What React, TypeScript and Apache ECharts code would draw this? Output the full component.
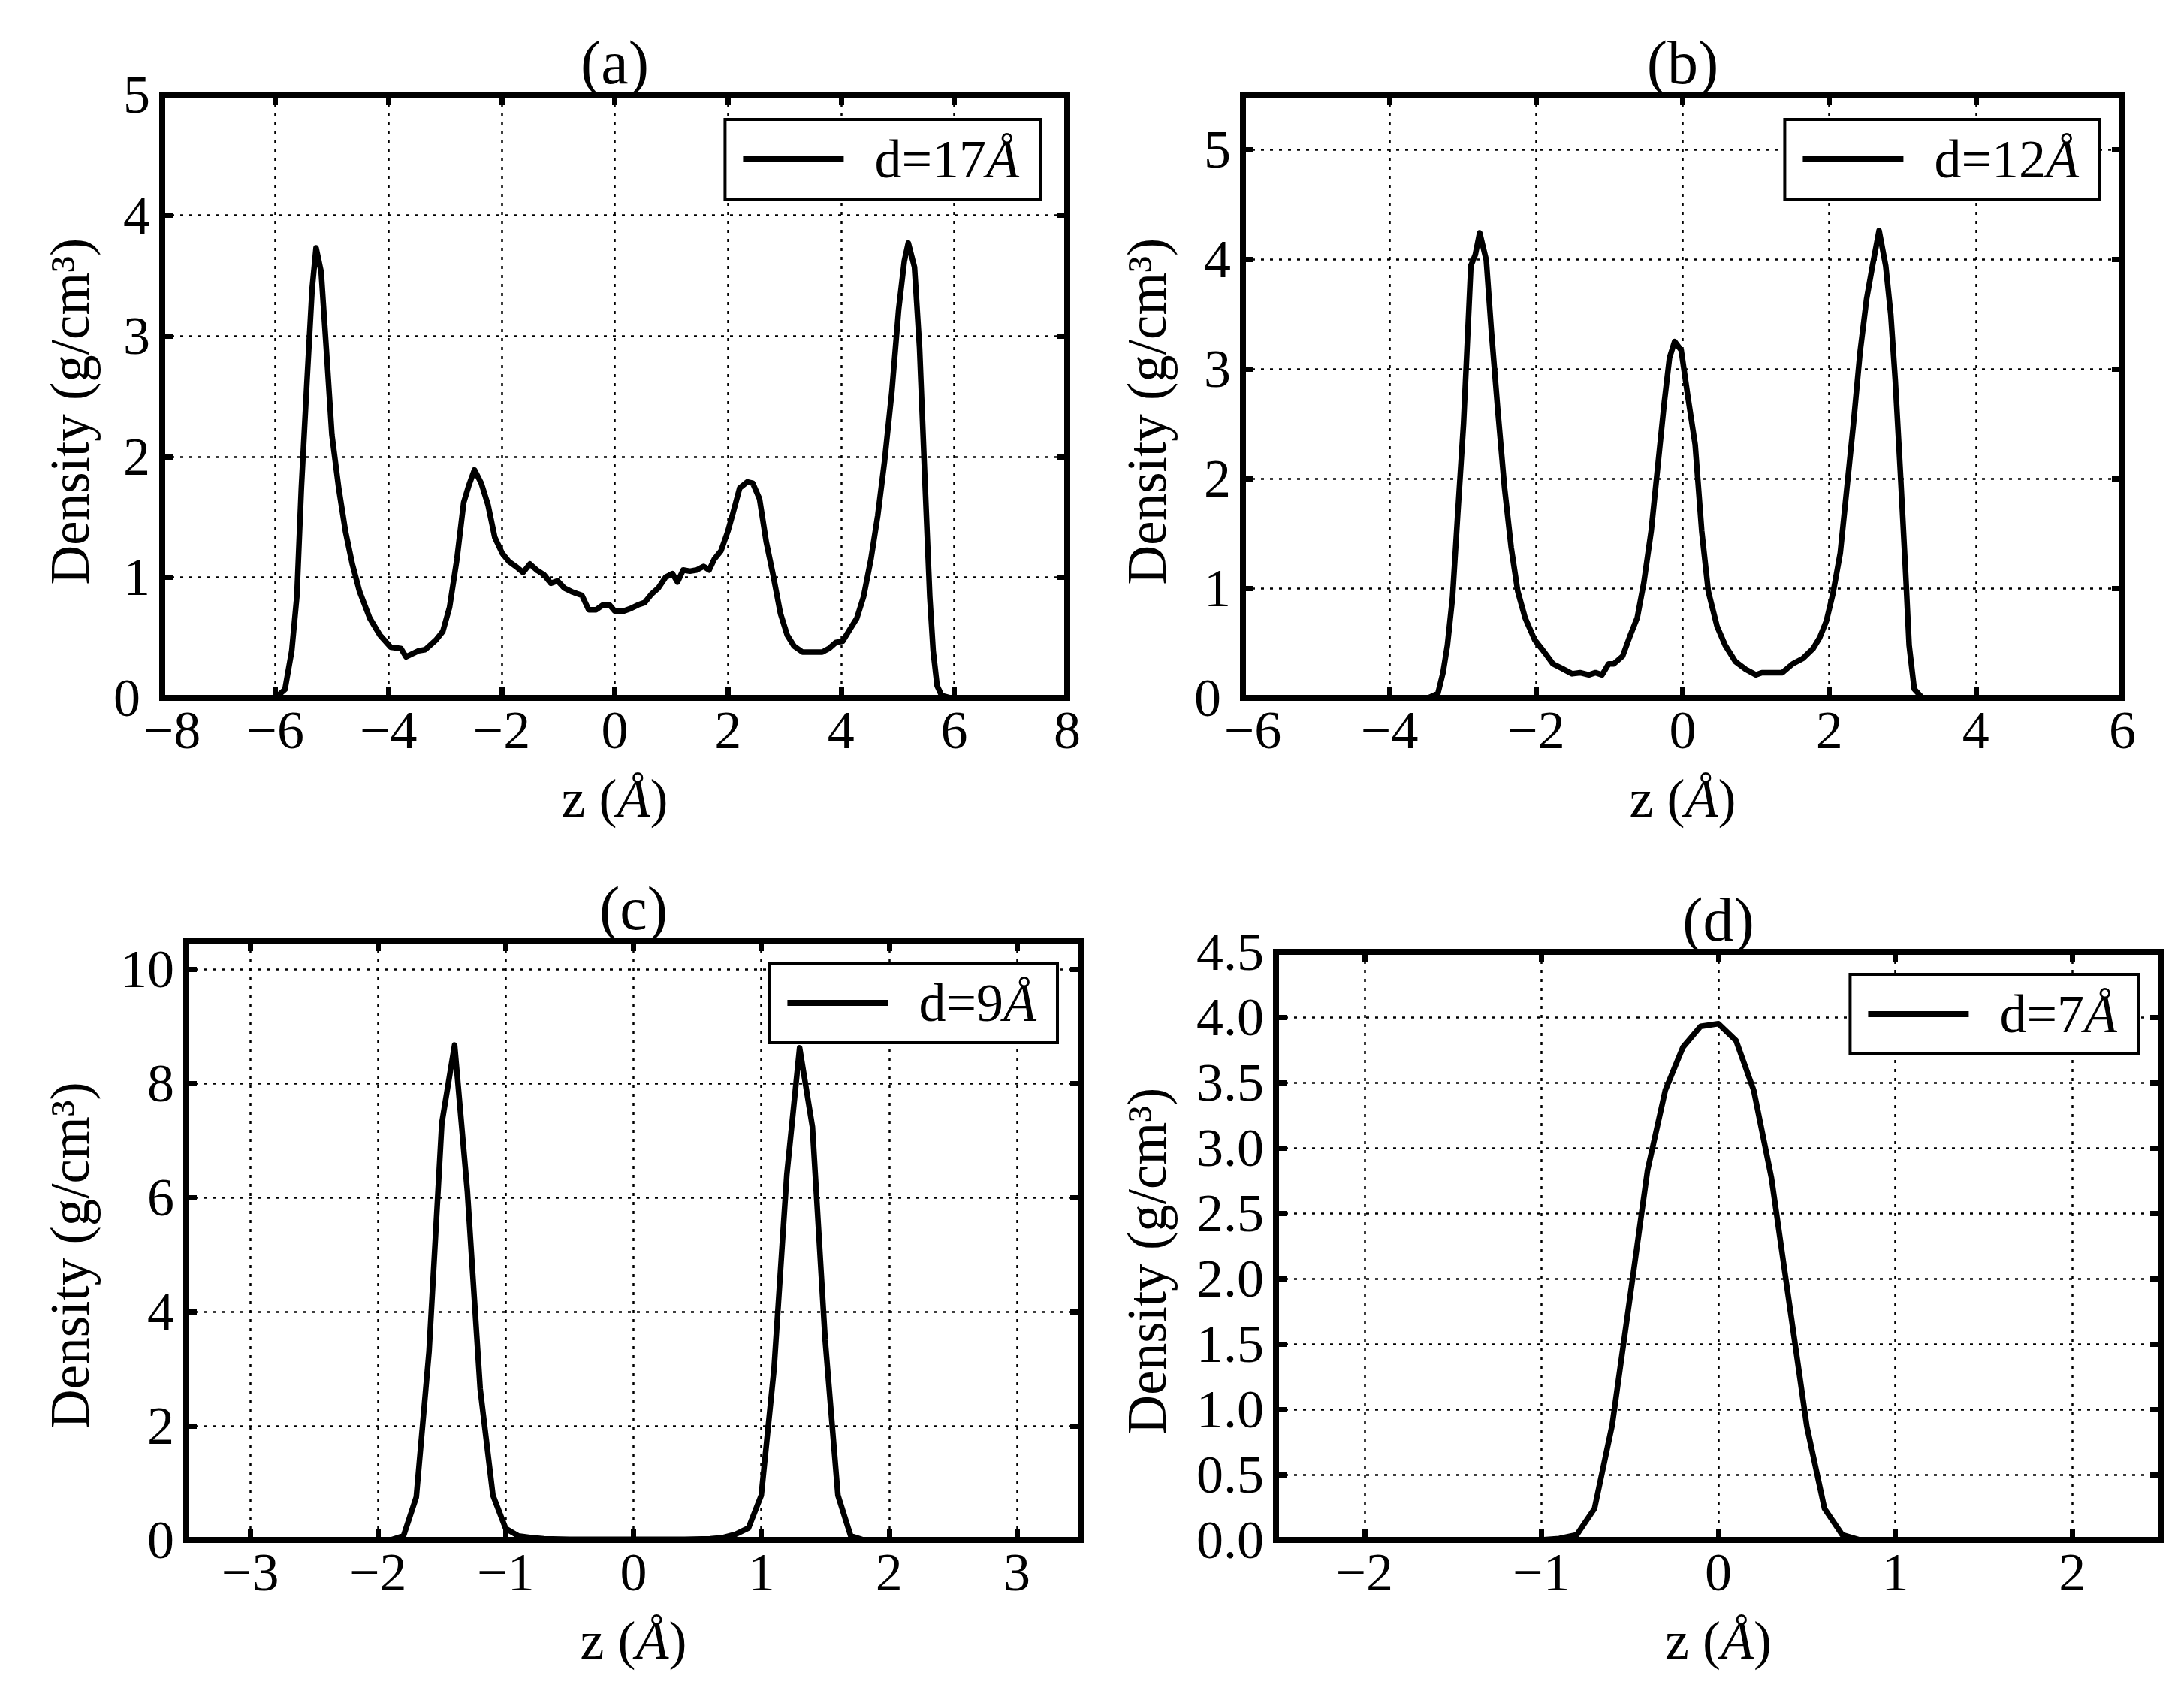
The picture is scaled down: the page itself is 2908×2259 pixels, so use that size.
import React, { useEffect, useRef } from 'react';
import * as echarts from 'echarts';

// ---------- data ----------
const zA = [
  -7.2, -6.6, -6.0, -5.83, -5.71, -5.62, -5.54, -5.44, -5.35, -5.28,
  -5.19, -5.1, -5.0, -4.88, -4.76, -4.64, -4.51, -4.33, -4.15, -3.96,
  -3.78, -3.69, -3.47, -3.35, -3.16, -3.04, -2.92, -2.79, -2.67, -2.58,
  -2.48, -2.36, -2.24, -2.12, -1.99, -1.87, -1.75, -1.62, -1.5, -1.38,
  -1.25, -1.13, -1.01, -0.89, -0.76, -0.58, -0.46, -0.33, -0.21, -0.09,
  0, 0.16, 0.28, 0.41, 0.53, 0.65, 0.77, 0.9, 1.02, 1.11,
  1.21, 1.33, 1.45, 1.57, 1.67, 1.76, 1.88, 2.0, 2.09, 2.21,
  2.34, 2.44, 2.56, 2.68, 2.8, 2.93, 3.05, 3.17, 3.32, 3.48,
  3.67, 3.79, 3.91, 4.03, 4.16, 4.28, 4.4, 4.53, 4.65, 4.77,
  4.9, 5.02, 5.12, 5.19, 5.3, 5.39, 5.49, 5.57, 5.63, 5.7,
  5.78, 5.94, 6.2,
];
const rhoA = [
  0, 0, 0, 0.07, 0.39, 0.84, 1.74, 2.63, 3.39, 3.73,
  3.53, 2.9, 2.18, 1.74, 1.38, 1.11, 0.88, 0.66, 0.52, 0.42,
  0.41, 0.34, 0.39, 0.4, 0.48, 0.55, 0.75, 1.15, 1.62, 1.76,
  1.89, 1.78, 1.6, 1.33, 1.2, 1.13, 1.09, 1.04, 1.11, 1.06,
  1.02, 0.95, 0.97, 0.91, 0.88, 0.85, 0.73, 0.73, 0.77, 0.77,
  0.72, 0.72, 0.74, 0.77, 0.79, 0.86, 0.91, 1.0, 1.03, 0.96,
  1.06, 1.05, 1.06, 1.09, 1.06, 1.15, 1.22, 1.38, 1.53, 1.74,
  1.79, 1.78, 1.65, 1.29, 1.02, 0.7, 0.52, 0.43, 0.38, 0.38,
  0.38, 0.41, 0.46, 0.47, 0.57, 0.66, 0.84, 1.15, 1.51, 1.96,
  2.54, 3.22, 3.62, 3.77, 3.57, 2.9, 1.74, 0.84, 0.39, 0.1,
  0.02, 0, 0,
];

const zB = [
  -3.6, -3.47, -3.34, -3.27, -3.21, -3.14, -3.07, -2.99, -2.89, -2.83,
  -2.77, -2.68, -2.61, -2.52, -2.43, -2.34, -2.25, -2.15, -2.02, -1.88,
  -1.77, -1.65, -1.51, -1.4, -1.28, -1.19, -1.1, -1.01, -0.94, -0.82,
  -0.71, -0.62, -0.53, -0.43, -0.34, -0.25, -0.18, -0.11, -0.02, 0.07,
  0.17, 0.26, 0.35, 0.47, 0.58, 0.72, 0.86, 1.0, 1.08, 1.22,
  1.36, 1.5, 1.64, 1.78, 1.87, 1.96, 2.05, 2.15, 2.24, 2.33,
  2.42, 2.51, 2.59, 2.68, 2.77, 2.84, 2.9, 2.97, 3.04, 3.09,
  3.16, 3.27, 3.4,
];
const rhoB = [
  0, 0, 0.04, 0.23, 0.48, 0.92, 1.67, 2.5, 3.94, 4.04,
  4.24, 3.99, 3.34, 2.6, 1.91, 1.37, 0.97, 0.73, 0.53, 0.41,
  0.31, 0.27, 0.22, 0.23, 0.21, 0.23, 0.21, 0.31, 0.31, 0.38,
  0.58, 0.73, 1.05, 1.52, 2.11, 2.7, 3.1, 3.25, 3.17, 2.75,
  2.31, 1.52, 0.97, 0.65, 0.48, 0.33, 0.26, 0.21, 0.23, 0.23,
  0.23, 0.31, 0.36, 0.45, 0.55, 0.7, 0.95, 1.32, 1.91, 2.5,
  3.15, 3.64, 3.94, 4.26, 3.94, 3.49, 2.9, 2.06, 1.17, 0.48,
  0.08, 0, 0,
];

const zC = [
  -2.0, -1.9, -1.8, -1.7, -1.6, -1.5, -1.4, -1.3, -1.2, -1.1,
  -1.0, -0.9, -0.8, -0.7, -0.5, -0.2, 0.1, 0.4, 0.6, 0.7,
  0.8, 0.9, 1.0, 1.1, 1.2, 1.3, 1.4, 1.5, 1.6, 1.7,
  1.8, 1.9,
];
const rhoC = [
  0, 0, 0.07, 0.75, 3.3, 7.3, 8.67, 6.1, 2.65, 0.78,
  0.2, 0.07, 0.04, 0.02, 0.01, 0.01, 0.01, 0.01, 0.02, 0.04,
  0.1, 0.21, 0.78, 3.0, 6.4, 8.62, 7.24, 3.5, 0.78, 0.07,
  0, 0,
];

const zD = [-1.0, -0.9, -0.8, -0.7, -0.6, -0.5, -0.4, -0.3, -0.2, -0.1, 0, 0.1, 0.2, 0.3, 0.4, 0.5, 0.6, 0.7, 0.8];
const rhoD = [0, 0.01, 0.04, 0.24, 0.88, 1.85, 2.83, 3.44, 3.77, 3.93, 3.95, 3.82, 3.44, 2.77, 1.82, 0.87, 0.24, 0.04, 0];

const panelTitles = ['(a)', '(b)', '(c)', '(d)'];
const seriesNames = ['d=17Å', 'd=12Å', 'd=9Å', 'd=7Å'];
// [min, max, tick step]
const xRanges = [[-8, 8, 2], [-6, 6, 2], [-3.5, 3.5, 1], [-2.5, 2.5, 1]];
const yRanges = [[0, 5, 1], [0, 5.5, 1], [0, 10.5, 2], [0, 4.5, 0.5]];
const yDecimals = [0, 0, 0, 1];
const xLabel = 'z ({i|Å})';
const yLabel = 'Density (g/cm³)';

// ---------- layout ----------
const layout = [
  { left: 216, top: 126, width: 1205, height: 803, yGap: 86, legRight: 1523, legTop: 159 },
  { left: 1655, top: 126, width: 1171, height: 803, yGap: 91, legRight: 112, legTop: 159 },
  { left: 248, top: 1252, width: 1191, height: 798, yGap: 118, legRight: 1500, legTop: 1282 },
  { left: 1699, top: 1267, width: 1178, height: 783, yGap: 135, legRight: 61, legTop: 1297 },
];

const FONT = '"Liberation Serif", "DejaVu Serif", serif';
const FS = 72;

function zip(xs: number[], ys: number[]) {
  const n = Math.min(xs.length, ys.length);
  const out: number[][] = [];
  for (let i = 0; i < n; i++) out.push([xs[i], ys[i]]);
  return out;
}

const onStep = (v: number, step: number) => Math.abs(v / step - Math.round(v / step)) < 1e-6;
const fmtNum = (v: number, decimals: number) => (Math.abs(v) < 1e-9 ? 0 : v).toFixed(decimals).replace('-', '\u2212');

// corner labels (x min / y zero) are nudged apart a little so they do not collide
const xFormatter = (min: number, step: number) => (v: number) => {
  if (!onStep(v, step)) return '';
  const s = fmtNum(v, 0);
  return Math.abs(v - min) < 1e-9 ? `{m|${s}}` : s;
};
const yFormatter = (step: number, decimals: number, nudgeZero: boolean) => (v: number) => {
  if (!onStep(v, step)) return '';
  const s = fmtNum(v, decimals);
  return nudgeZero && Math.abs(v) < 1e-9 ? `{z|${s}}` : s;
};

const baseText = { fontFamily: FONT, fontSize: FS, color: '#000' };
const richItalic = { i: { ...baseText, fontStyle: 'italic' } };

function buildOption() {
  const datasets = [zip(zA, rhoA), zip(zB, rhoB), zip(zC, rhoC), zip(zD, rhoD)];
  const tick = { show: true, inside: true, length: 14, lineStyle: { color: '#000', width: 7 } };
  const split = { show: true, lineStyle: { color: '#000', width: 2.5, type: [4, 8] } };
  const noLine = { show: false, onZero: false };

  const grid: any[] = [];
  const xAxis: any[] = [];
  const yAxis: any[] = [];
  const series: any[] = [];
  const legend: any[] = [];
  const graphic: any[] = [];

  layout.forEach((l, i) => {
    grid.push({
      left: l.left, top: l.top, width: l.width, height: l.height,
      show: true, borderColor: '#000', borderWidth: 8, backgroundColor: 'transparent',
      containLabel: false, outerBoundsMode: 'none',
    });
    const [xmin, xmax, xstep] = xRanges[i];
    const [ymin, ymax, ystep] = yRanges[i];
    const xMinIsMultiple = onStep(xmin, xstep);
    const xScale: any = xMinIsMultiple
      ? { min: xmin, max: xmax, interval: xstep }
      : { min: xmin, max: xmax, splitNumber: Math.round((xmax - xmin) / xstep), minInterval: xstep, maxInterval: xstep };
    xAxis.push({
      type: 'value', gridIndex: i, position: 'bottom', ...xScale,
      axisLine: noLine, axisTick: tick, splitLine: split,
      axisLabel: {
        show: true, margin: 23, ...baseText, lineHeight: 40,
        formatter: xFormatter(xmin, xstep), showMinLabel: true, showMaxLabel: true,
        rich: { m: { ...baseText, lineHeight: 40, padding: [0, 0, 0, 26] } },
      },
      name: xLabel, nameLocation: 'middle', nameGap: 98,
      nameTextStyle: { ...baseText, rich: richItalic },
    });
    xAxis.push({
      type: 'value', gridIndex: i, position: 'top', ...xScale,
      axisLine: noLine, axisTick: tick, splitLine: { show: false }, axisLabel: { show: false },
    });
    yAxis.push({
      type: 'value', gridIndex: i, position: 'left', min: ymin, max: ymax, interval: ystep,
      axisLine: noLine, axisTick: tick, splitLine: split,
      axisLabel: {
        show: true, margin: 16, ...baseText, lineHeight: 38,
        formatter: yFormatter(ystep, yDecimals[i], xMinIsMultiple),
        rich: { z: { ...baseText, lineHeight: 38, padding: [0, 13, 0, 0] } },
      },
      name: yLabel, nameLocation: 'middle', nameGap: l.yGap,
      nameTextStyle: { ...baseText, fontSize: 73, padding: [0, 40, 0, 0] },
    });
    yAxis.push({
      type: 'value', gridIndex: i, position: 'right', min: ymin, max: ymax, interval: ystep,
      axisLine: noLine, axisTick: tick, splitLine: { show: false }, axisLabel: { show: false },
    });
    series.push({
      type: 'line', name: seriesNames[i], xAxisIndex: 2 * i, yAxisIndex: 2 * i,
      data: datasets[i], symbol: 'none', showSymbol: false, smooth: false,
      color: '#000', lineStyle: { color: '#000', width: 7.5, join: 'round' },
      z: 3,
    });
    legend.push({
      data: [seriesNames[i]], right: l.legRight, top: l.legTop, orient: 'horizontal',
      icon: 'rect', itemWidth: 134, itemHeight: 8, itemStyle: { color: '#000' },
      backgroundColor: '#fff', borderColor: '#000', borderWidth: 4, borderRadius: 0,
      padding: [17, 28, 17, 24], selectedMode: false, z: 10,
      textStyle: { ...baseText, padding: [0, 0, 0, 36], rich: richItalic },
      formatter: (name: string) => name.replace('Å', '{i|Å}'),
    });
    graphic.push({
      type: 'text', x: l.left + l.width / 2, y: l.top - 43, z: 20,
      style: {
        text: panelTitles[i], fill: '#000', fontFamily: FONT, fontSize: 82,
        align: 'center', verticalAlign: 'middle', textAlign: 'center', textVerticalAlign: 'middle',
      },
    });
  });

  return {
    animation: false,
    backgroundColor: '#fff',
    grid, xAxis, yAxis, series, legend, graphic,
  };
}

export default function App() {
  const ref = useRef<HTMLDivElement>(null);
  useEffect(() => {
    document.body.style.margin = '0';
    const chart = echarts.init(ref.current as HTMLDivElement, null, { renderer: 'svg' });
    chart.setOption(buildOption() as any);
    return () => chart.dispose();
  }, []);
  return <div ref={ref} style={{ width: 2908, height: 2259, background: '#fff' }} />;
}
